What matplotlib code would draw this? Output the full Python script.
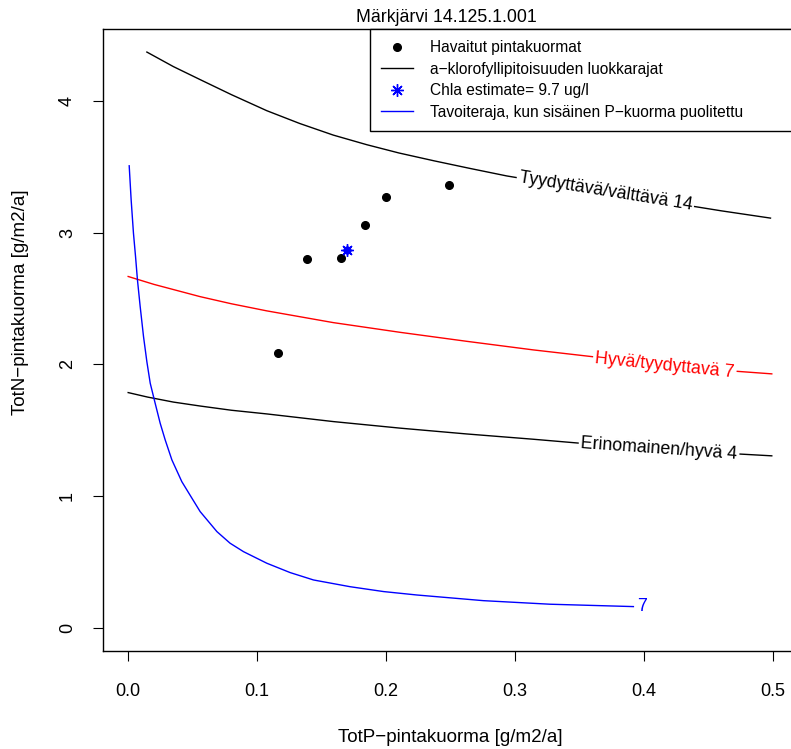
import numpy as np
import matplotlib
matplotlib.use("Agg")
import matplotlib.pyplot as plt

plt.rcParams['font.family'] = ['Liberation Sans', 'DejaVu Sans']

# havaitut pintakuormat (TotP, TotN)
obs_p = [0.116, 0.139, 0.165, 0.1835, 0.1996, 0.2488]
obs_n = [2.087, 2.801, 2.808, 3.057, 3.269, 3.362]

# Chla estimate
est_p = [0.170]
est_n = [2.869]

# luokkarajat (isolines)
c14_p = [0.0145, 0.035, 0.056, 0.08, 0.1075, 0.133, 0.159, 0.185, 0.21, 0.237,
         0.265, 0.2935, 0.33, 0.37, 0.425, 0.46, 0.498]
c14_n = [4.37, 4.26, 4.16, 4.047, 3.925, 3.828, 3.74, 3.667, 3.604, 3.545,
         3.487, 3.43, 3.37, 3.31, 3.22, 3.165, 3.11]

c7_p = [0.0, 0.02, 0.0558, 0.08, 0.1075, 0.159, 0.211, 0.2625, 0.314, 0.363, 0.416, 0.46, 0.499]
c7_n = [2.667, 2.607, 2.514, 2.460, 2.406, 2.317, 2.243, 2.175, 2.110, 2.055, 1.992, 1.956, 1.928]

c4_p = [0.0, 0.015, 0.035, 0.0558, 0.08, 0.1075, 0.159, 0.211, 0.2625, 0.314, 0.350, 0.4116, 0.455, 0.499]
c4_n = [1.786, 1.752, 1.714, 1.684, 1.652, 1.624, 1.566, 1.516, 1.472, 1.432, 1.402, 1.358, 1.330, 1.306]

# tavoiteraja
tgt_p = [0.0008, 0.0023, 0.0041, 0.0057, 0.0072, 0.0093, 0.0119, 0.0145, 0.0171,
         0.0209, 0.0248, 0.0287, 0.0339, 0.0416, 0.0494, 0.0558, 0.0688, 0.079,
         0.0894, 0.1075, 0.1256, 0.1437, 0.172, 0.198, 0.2238, 0.2754, 0.327, 0.3917]
tgt_n = [3.507, 3.25, 2.996, 2.82, 2.641, 2.44, 2.211, 2.02, 1.857,
         1.706, 1.554, 1.427, 1.275, 1.11, 0.985, 0.883, 0.731, 0.643,
         0.579, 0.491, 0.42, 0.364, 0.313, 0.276, 0.250, 0.207, 0.180, 0.162]

curves = [
    (c14_p, c14_n, "black", "Tyydyttävä/välttävä 14", 0.370),
    (c7_p, c7_n, "red", "Hyvä/tyydyttavä 7", 0.416),
    (c4_p, c4_n, "black", "Erinomainen/hyvä 4", 0.4116),
]

fig = plt.figure(figsize=(7.91, 7.49), dpi=100)
ax = fig.add_axes([102.5 / 791, 98 / 749, 692.5 / 791, 622 / 749])
ax.set_xlim(-0.0199, 0.517)
ax.set_ylim(-0.175, 4.545)

for cp, cn, col, lab, lx in curves:
    ax.plot(cp, cn, color=col, lw=1.0)

ax.plot(tgt_p, tgt_n, color="blue", lw=1.0)

# inline labels like R contour
fig.canvas.draw()
for cp, cn, col, lab, lx in curves:
    ly = np.interp(lx, cp, cn)
    a = ax.transData.transform((lx - 0.02, np.interp(lx - 0.02, cp, cn)))
    b = ax.transData.transform((lx + 0.02, np.interp(lx + 0.02, cp, cn)))
    ang = np.degrees(np.arctan2(b[1] - a[1], b[0] - a[0]))
    ax.text(lx, ly, lab, color=col, fontsize=12.8, rotation=ang,
            rotation_mode="anchor", ha="center", va="center",
            bbox=dict(facecolor="white", edgecolor="none", pad=1.5))
ax.text(tgt_p[-1] + 0.003, tgt_n[-1], "7", color="blue", fontsize=12.8,
        ha="left", va="center")

ax.plot(obs_p, obs_n, "o", color="black", ms=5.5, ls="none",
        label="Havaitut pintakuormat")
ax.plot([], [], color="black", lw=1.0, label="a−klorofyllipitoisuuden luokkarajat")
ax.plot(est_p, est_n, "o", color="blue", ms=5, ls="none")
ax.plot(est_p, est_n, marker=(8, 2, 0), color="blue", ms=9, mew=1.0, ls="none",
        label="Chla estimate= 9.7 ug/l")
ax.plot([], [], color="blue", lw=1.0,
        label="Tavoiteraja, kun sisäinen P−kuorma puolitettu")

lx0 = (370 - 102.5) / 692.5
leg = ax.legend(loc="upper left", bbox_to_anchor=(lx0, 0.0, 1.02 - lx0, 1.0),
                mode="expand", borderaxespad=0, fontsize=11.2,
                frameon=True, fancybox=False, framealpha=1, edgecolor="black",
                handlelength=2.05, handletextpad=1.1, labelspacing=0.42,
                borderpad=0.72)
leg.get_frame().set_linewidth(1.0)

ax.set_xticks([0.0, 0.1, 0.2, 0.3, 0.4, 0.5])
ax.set_xticklabels(["0.0", "0.1", "0.2", "0.3", "0.4", "0.5"])
ax.set_yticks([0, 1, 2, 3, 4])
ax.set_yticklabels(["0", "1", "2", "3", "4"], rotation=90, va="center")
ax.tick_params(axis="both", direction="out", length=7, width=0.8, labelsize=13)
ax.tick_params(axis="x", pad=16)
ax.tick_params(axis="y", pad=12)
for s in ax.spines.values():
    s.set_linewidth(1.0)
ax.spines["right"].set_visible(False)

fig.text(446 / 791, 1 - 17 / 749, "Märkjärvi 14.125.1.001", ha="center", va="center",
         fontsize=12.8)
fig.text(450 / 791, 1 - 737 / 749, "TotP−pintakuorma [g/m2/a]", ha="center",
         va="center", fontsize=13.5)
fig.text(21 / 791, 1 - 302 / 749, "TotN−pintakuorma [g/m2/a]", ha="center",
         va="center", rotation=90, fontsize=13.5)

fig.savefig("out.png", dpi=100)
